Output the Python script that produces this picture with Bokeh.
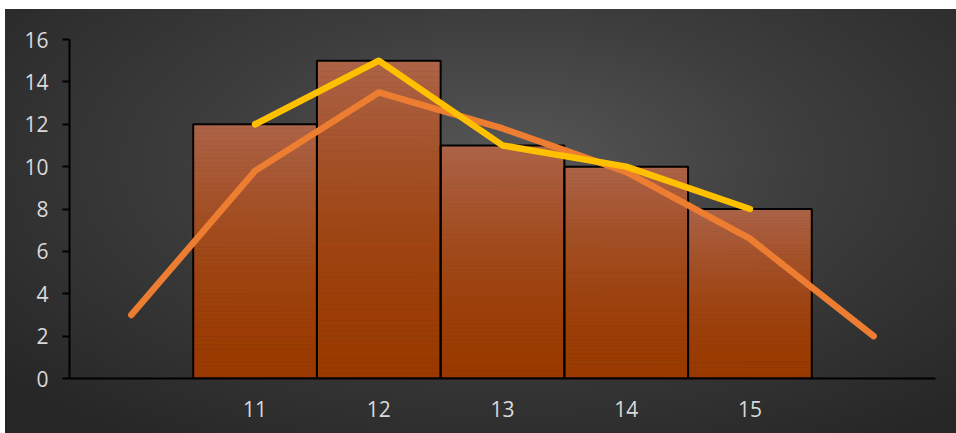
from bokeh.plotting import figure
from bokeh.models import Range1d, FixedTicker
from bokeh.embed import file_html
from bokeh.resources import INLINE

# ---- data ----
categories = ["11", "12", "13", "14", "15"]
bar_values = [12, 15, 11, 10, 8]
yellow_values = [12, 15, 11, 10, 8]
curve_labels = ["", "11", "12", "13", "14", "15", ""]
curve_values = [3.0, 9.8, 13.5, 11.8, 9.75, 6.6, 2.0]
y_ticks = [0, 2, 4, 6, 8, 10, 12, 14, 16]

# positions on a numeric axis (slot 1..7, categories occupy 2..6)
curve_x = list(range(1, len(curve_labels) + 1))
cat_x = [curve_labels.index(c) + 1 for c in categories]

p = figure(width=956, height=433, output_backend="svg", toolbar_location=None,
           x_range=Range1d(0.5, len(curve_labels) + 0.5), y_range=Range1d(0, 16),
           min_border_left=69, min_border_right=21, min_border_top=39, min_border_bottom=55)
p.background_fill_alpha = 0
p.border_fill_alpha = 0
p.outline_line_color = None
p.styles = {"background": (
    "linear-gradient(#ffffff, #ffffff) 0 0 / 100% 9px no-repeat, "
    "linear-gradient(#ffffff, #ffffff) 0 0 / 5px 100% no-repeat, "
    "radial-gradient(ellipse 70% 78% at 53% 38%, #575757 0%, #3d3d3d 45%, #262626 100%)")}
p.grid.visible = False

# gradient bars: slices from bar top (light) to bottom (dark)
top_rgb = (173, 100, 72)
bot_rgb = (154, 58, 0)
N = 60
L, R, B, T, C = [], [], [], [], []
for x, v in zip(cat_x, bar_values):
    for k in range(N):
        t = ((k + 0.5) / N) ** 1.6  # 0 bottom -> 1 top
        col = tuple(int(round(bot_rgb[i] + (top_rgb[i] - bot_rgb[i]) * t)) for i in range(3))
        L.append(x - 0.5); R.append(x + 0.5)
        B.append(v * k / N); T.append(v * (k + 1) / N)
        C.append("#%02x%02x%02x" % col)
p.quad(left=L, right=R, bottom=B, top=T, fill_color=C, line_color=C, line_width=0.6)
p.vbar(x=cat_x, top=bar_values, width=1.0, fill_alpha=0, line_color="black", line_width=2)

p.line(curve_x, curve_values, line_color="#ED7D31", line_width=6.5,
       line_cap="round", line_join="round")
p.line(cat_x, yellow_values, line_color="#FFC000", line_width=6.5,
       line_cap="round", line_join="round")

# axes
p.xaxis.ticker = FixedTicker(ticks=cat_x)
p.xaxis.major_label_overrides = {x: c for x, c in zip(cat_x, categories)}
p.xaxis.major_tick_line_color = None
p.xaxis.minor_tick_line_color = None
p.xaxis.axis_line_color = "black"
p.xaxis.axis_line_width = 2
p.xaxis.major_label_standoff = 16

p.yaxis.ticker = FixedTicker(ticks=y_ticks)
p.yaxis.minor_tick_line_color = None
p.yaxis.major_tick_in = 0
p.yaxis.major_tick_out = 7
p.yaxis.major_tick_line_color = "black"
p.yaxis.major_tick_line_width = 2
p.yaxis.axis_line_color = "black"
p.yaxis.axis_line_width = 2
p.yaxis.major_label_standoff = 14

for ax in (p.xaxis, p.yaxis):
    ax.major_label_text_font = "Open Sans"
    ax.major_label_text_font_size = "21px"
    ax.major_label_text_color = "#D9D9D9"

open("out.html", "w").write(file_html(p, INLINE))
